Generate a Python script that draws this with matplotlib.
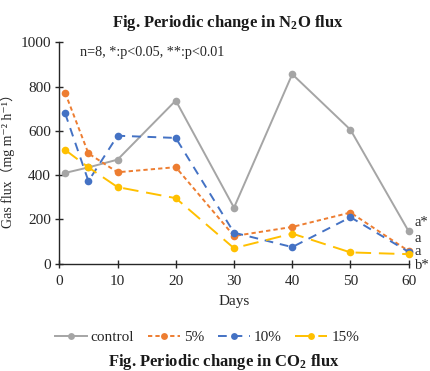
import matplotlib
matplotlib.use("Agg")
import matplotlib.pyplot as plt

plt.rcParams['font.family'] = ['Liberation Serif', 'Noto Sans CJK SC', 'DejaVu Serif']
plt.rcParams['mathtext.default'] = 'regular'

days = [1, 5, 10, 20, 30, 40, 50, 60]
control = [410, 435, 470, 737, 253, 856, 605, 146]
pct5 = [772, 498, 413, 436, 125, 166, 231, 57]
pct10 = [679, 373, 578, 568, 140, 75, 210, 53]
pct15 = [514, 435, 346, 296, 70, 136, 51, 43]
series_labels = ['control', '5%', '10%', '15%']
sig_labels = ['a*', 'a', 'a', 'b*']
sig_y = [184, 112, 57, -10]
x_ticks = [0, 10, 20, 30, 40, 50, 60]
y_ticks = [0, 200, 400, 600, 800, 1000]

colors = ['#A5A5A5', '#ED7D31', '#4472C4', '#FFC000']
styles = ['-', (0, (2.2, 1.6)), (0, (4.5, 3.5)), (0, (8, 4))]

fig = plt.figure(figsize=(4.30, 3.71), dpi=100)
ax = fig.add_axes([59.3/430, 1-263.7/371, 349.4/430, 221.4/371])

for ys, lab, c, ls in zip([control, pct5, pct10, pct15], series_labels, colors, styles):
    ax.plot(days, ys, color=c, linestyle=ls, lw=1.4, marker='o', markersize=5.5,
            markeredgewidth=0, label=lab, clip_on=False)

ax.set_xlim(0, 60)
ax.set_ylim(0, 1000)
ax.set_xticks(x_ticks)
ax.set_yticks(y_ticks)
for s in ['top', 'right']:
    ax.spines[s].set_visible(False)
for s in ['left', 'bottom']:
    ax.spines[s].set_color('#262626')
    ax.spines[s].set_linewidth(1.0)
ax.tick_params(direction='inout', length=6, width=1.0, color='#262626',
               labelsize=11, labelcolor='#262626')
ax.tick_params(axis='x', pad=5)
ax.tick_params(axis='y', pad=3)

ax.set_xlabel('Days', fontsize=11, color='#262626', labelpad=5)
fig.text(8/430, 1-158/371, 'Gas flux（mg m⁻² h⁻¹）', rotation=90, ha='center', va='center',
         fontsize=10, color='#262626')

ax.text(3.5, 955, 'n=8, *:p<0.05, **:p<0.01', fontsize=10.2, color='#262626', va='center')
for lab, yv in zip(sig_labels, sig_y):
    ax.text(61.0, yv, lab, fontsize=10.5, color='#262626', va='center', clip_on=False)

fig.text(228/430, 1-23/371, 'Fig. Periodic change in N$_2$O flux', ha='center', va='center',
         fontsize=12, fontweight='bold', color='#1a1a1a')
fig.text(224/430, 1-362/371, 'Fig. Periodic change in CO$_2$ flux', ha='center', va='center',
         fontsize=12, fontweight='bold', color='#1a1a1a')

fig.legend(loc='center', bbox_to_anchor=(207/430, 1-337/371), ncol=4, frameon=False,
           fontsize=11, handlelength=2.1, handletextpad=0.25, columnspacing=0.9,
           markerscale=0.9, labelcolor='#262626')

fig.savefig('out.png', dpi=100)
